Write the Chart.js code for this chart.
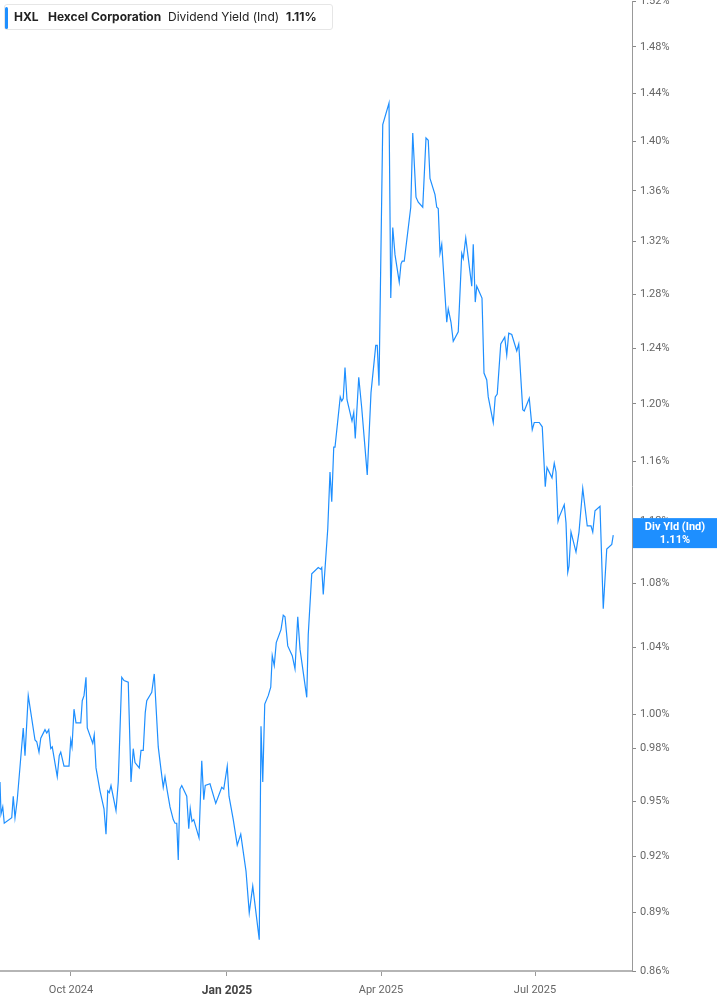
<!DOCTYPE html>
<html>
<head>
<meta charset="utf-8">
<script src="https://cdn.jsdelivr.net/npm/chart.js@4.4.1/dist/chart.umd.min.js"></script>
<style>
  html, body { margin: 0; padding: 0; background: #fff; overflow: hidden; }
  #wrap { position: relative; width: 717px; height: 1005px; overflow: hidden; }
  canvas { display: block; position: absolute; left: 0; top: -9px; }
  .legend {
    position: absolute; left: 4px; top: 4px; width: 327px; height: 24px;
    border: 1px solid #e6e6e6; border-radius: 3px; background: #fff;
    font-family: Inter, "Noto Sans", sans-serif; font-size: 12px; color: #222;
    line-height: 24px; white-space: nowrap;
  }
  .legend .bar { position: absolute; left: 0; top: 2px; width: 3px; height: 22px; background: #1e8fff; border-radius: 2px; }
  .legend span { position: absolute; top: 0; }
  .b { font-weight: 700; }
</style>
</head>
<body>
<div id="wrap">
  <canvas id="chart" width="717" height="1014"></canvas>
  <div class="legend">
    <div class="bar"></div>
    <span class="b" style="left:9px">HXL</span>
    <span class="b" style="left:43px">Hexcel Corporation</span>
    <span style="left:163px">Dividend Yield (Ind)</span>
    <span class="b" style="left:281px">1.11%</span>
  </div>
</div>
<script>
// trading-day index from the start of the window (about 2.5 px per day in the picture)
const dayIdx = [
  0, 0.4, 1.1, 1.7, 4.7, 5.3, 6, 6.9, 9.3, 10, 11.3, 14, 14.7, 15.6, 16.3, 18, 18.7, 19.5, 20.3, 20.9,
  22.9, 23.7, 24.3, 25.6, 27.6, 28.3, 28.8, 29.6, 30.4, 32.3, 32.9, 33.6, 34.4, 34.9, 37.1, 37.7, 38.4, 40, 41.6, 42.4,
  43.1, 43.7, 44.4, 46.4, 47.3, 48.7, 49.6, 51.3, 52.4, 53.3, 54, 55.7, 56.4, 57.3, 58.1, 58.7, 60.7, 61.7, 63.3, 64.4,
  65.3, 66, 66.9, 68, 69.3, 70, 70.7, 71.3, 72, 72.7, 74.7, 75.5, 76.1, 76.8, 77.5, 79.6, 80.7, 81.5, 82.1, 84,
  86.3, 88.7, 89.5, 90.9, 91.6, 93.3, 94.9, 96.3, 98.4, 99.7, 101.1, 103.7, 104.4, 105.1, 105.9, 107.3, 108.3, 108.9, 109.7, 110.5,
  112.4, 113.3, 114, 115.1, 116.9, 118, 119.1, 120, 122.7, 123.3, 124.7, 127.3, 128.3, 128.7, 129.3, 131.1, 132, 132.7, 133.5, 134,
  136.1, 136.7, 137.3, 138, 138.8, 140.8, 141.5, 142.1, 143.5, 144.7, 146.9, 148.4, 150.3, 150.9, 151.6, 153.1, 155.6, 156.3, 157.1, 158,
  159.7, 160.4, 160.9, 161.7, 164.3, 165.1, 166.4, 167.3, 169.1, 170.4, 171.3, 172, 174, 174.7, 175.3, 176, 176.7, 178.7, 179.3, 180.4,
  181.3, 183.3, 184.7, 185.3, 186.3, 188.7, 189.3, 190.1, 190.7, 192.8, 193.6, 194.7, 195.3, 197.3, 198.1, 198.9, 200.3, 201.9, 202.7, 203.5,
  204.7, 206.7, 207.5, 209.1, 209.7, 211.7, 212.9, 213.7, 215.7, 216.9, 218.1, 218.8, 220.8, 221.7, 222.4, 223.2, 223.7, 225.7, 226.4, 227.1,
  227.6, 228.4, 230.4, 231.6, 233.1, 234.9, 236.4, 237.1, 238, 240, 241.3, 242.7, 244.7, 245.3
];
// dividend yield (%)
const yieldVals = [
  0.961, 0.943, 0.947, 0.938, 0.941, 0.953, 0.941, 0.951, 0.992, 0.976, 1.011, 0.985, 0.984, 0.978, 0.986, 0.991, 0.989, 0.991, 0.980, 0.981,
  0.964, 0.976, 0.978, 0.970, 0.970, 0.985, 0.981, 1.003, 0.995, 0.995, 1.008, 1.011, 1.022, 0.992, 0.983, 0.988, 0.969, 0.956, 0.946, 0.932,
  0.956, 0.955, 0.959, 0.945, 0.961, 1.022, 1.020, 1.019, 0.961, 0.980, 0.972, 0.969, 0.979, 0.979, 1.001, 1.008, 1.013, 1.024, 0.981, 0.968,
  0.958, 0.964, 0.956, 0.947, 0.940, 0.938, 0.938, 0.918, 0.957, 0.959, 0.953, 0.935, 0.946, 0.939, 0.940, 0.930, 0.973, 0.951, 0.959, 0.960,
  0.949, 0.958, 0.957, 0.970, 0.953, 0.940, 0.926, 0.932, 0.912, 0.890, 0.904, 0.876, 0.993, 0.961, 1.006, 1.011, 1.016, 1.035, 1.029, 1.043,
  1.051, 1.060, 1.059, 1.041, 1.035, 1.027, 1.059, 1.039, 1.010, 1.048, 1.086, 1.090, 1.089, 1.090, 1.073, 1.115, 1.153, 1.133, 1.170, 1.170,
  1.205, 1.202, 1.204, 1.226, 1.203, 1.188, 1.194, 1.176, 1.219, 1.197, 1.151, 1.208, 1.242, 1.242, 1.213, 1.414, 1.432, 1.277, 1.331, 1.310,
  1.289, 1.303, 1.305, 1.305, 1.347, 1.407, 1.355, 1.351, 1.347, 1.403, 1.401, 1.370, 1.357, 1.347, 1.346, 1.311, 1.318, 1.259, 1.269, 1.259,
  1.245, 1.252, 1.311, 1.307, 1.323, 1.286, 1.318, 1.274, 1.286, 1.277, 1.222, 1.217, 1.205, 1.187, 1.205, 1.207, 1.243, 1.248, 1.235, 1.251,
  1.250, 1.238, 1.243, 1.196, 1.195, 1.204, 1.182, 1.187, 1.187, 1.184, 1.143, 1.156, 1.149, 1.159, 1.153, 1.120, 1.123, 1.131, 1.119, 1.087,
  1.091, 1.113, 1.100, 1.113, 1.142, 1.117, 1.117, 1.113, 1.127, 1.130, 1.064, 1.102, 1.105, 1.111
];
const xTickPos = [28.4, 90.8, 152.4, 214];
const xTickLabels = ['Oct 2024', 'Jan 2025', 'Apr 2025', 'Jul 2025'];
const yTicks = [0.86, 0.89, 0.92, 0.95, 0.98, 1.00, 1.04, 1.08, 1.12, 1.16, 1.20, 1.24, 1.28, 1.32, 1.36, 1.40, 1.44, 1.48, 1.52];
const lastValue = yieldVals[yieldVals.length - 1];

const lineColor = '#1e8fff';

// value tag on the right axis
const lastTag = {
  id: 'lastTag',
  afterDraw(chart) {
    const { ctx, chartArea, scales } = chart;
    const y = scales.y.getPixelForValue(lastValue);
    const left = chartArea.right + 1;
    ctx.save();
    ctx.fillStyle = lineColor;
    ctx.fillRect(left, y - 17, 717 - left, 30);
    ctx.fillStyle = '#fff';
    ctx.font = 'bold 11px Roboto, sans-serif';
    ctx.textAlign = 'center';
    ctx.textBaseline = 'middle';
    const cx = left + (717 - left) / 2;
    ctx.fillText('Div Yld (Ind)', cx, y - 8);
    ctx.fillText(lastValue.toFixed(2) + '%', cx, y + 5);
    ctx.restore();
  }
};

new Chart(document.getElementById('chart'), {
  type: 'line',
  data: {
    datasets: [{
      label: 'Dividend Yield (Ind)',
      data: dayIdx.map((d, i) => ({ x: d, y: yieldVals[i] })),
      borderColor: lineColor,
      borderWidth: 1.2,
      pointRadius: 0,
      tension: 0,
      fill: false
    }]
  },
  options: {
    responsive: false,
    animation: false,
    devicePixelRatio: 1,
    layout: { padding: 0, autoPadding: false },
    plugins: { legend: { display: false }, tooltip: { enabled: false } },
    scales: {
      x: {
        type: 'linear',
        min: 0,
        max: 252.8,
        afterBuildTicks: s => { s.ticks = xTickPos.map(v => ({ value: v })); },
        afterFit: s => { s.height = 34; },
        grid: { drawOnChartArea: false, drawTicks: true, tickLength: 5, tickColor: '#999' },
        border: { color: '#b5b5b5', width: 2 },
        ticks: {
          autoSkip: false,
          maxRotation: 0,
          padding: 8,
          callback: (v, i) => xTickLabels[i],
          color: ctx => ctx.index === 1 ? '#444' : '#666',
          font: ctx => ctx.index === 1
            ? { family: 'Roboto', size: 12, weight: 'bold' }
            : { family: 'Roboto', size: 11 }
        }
      },
      y: {
        type: 'logarithmic',
        position: 'right',
        min: 0.86,
        max: 1.52,
        afterBuildTicks: s => { s.ticks = yTicks.map(v => ({ value: v })); },
        afterFit: s => { s.width = 85; },
        grid: { drawOnChartArea: false, drawTicks: true, tickLength: 4, tickColor: '#888' },
        border: { color: '#999', width: 1 },
        ticks: {
          autoSkip: false,
          padding: 4,
          color: '#666',
          font: { family: 'Roboto', size: 11 },
          callback: v => v.toFixed(2) + '%'
        }
      }
    }
  },
  plugins: [lastTag]
});
</script>
</body>
</html>
